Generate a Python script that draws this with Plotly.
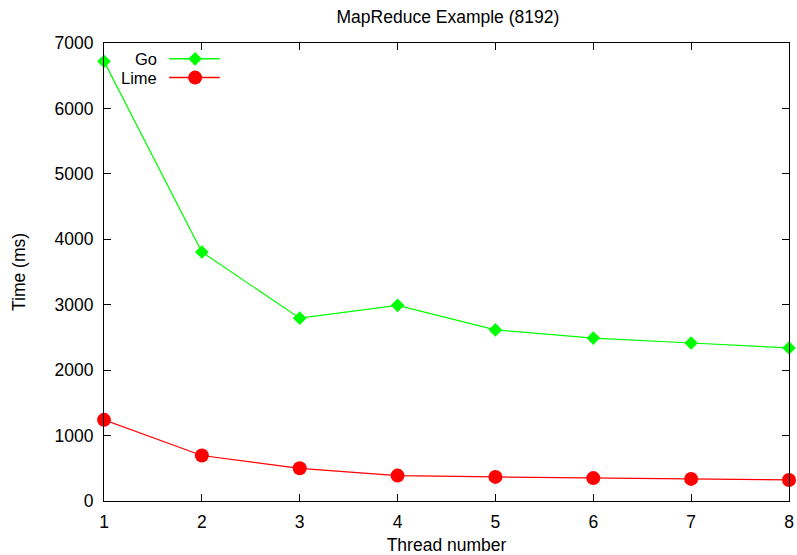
import plotly.graph_objects as go

threads = [1, 2, 3, 4, 5, 6, 7, 8]
go_ms = [6720, 3805, 2795, 2990, 2615, 2490, 2415, 2340]
lime_ms = [1240, 695, 500, 388, 368, 350, 338, 322]

x_ticks = [1, 2, 3, 4, 5, 6, 7, 8]
y_ticks = [0, 1000, 2000, 3000, 4000, 5000, 6000, 7000]

GREEN = "#00ff00"
RED = "#ff0000"
FONT = "Liberation Sans, Arial, sans-serif"
FS = 17.5
KEY_FS = 16.5

fig = go.Figure()
fig.add_trace(go.Scatter(
    x=threads, y=go_ms, name="Go", mode="lines+markers",
    line=dict(color=GREEN, width=1.2),
    marker=dict(symbol="diamond", size=10.5, color=GREEN),
    cliponaxis=False, showlegend=False,
))
fig.add_trace(go.Scatter(
    x=threads, y=lime_ms, name="Lime", mode="lines+markers",
    line=dict(color=RED, width=1.2),
    marker=dict(symbol="circle", size=14, color=RED),
    cliponaxis=False, showlegend=False,
))

# gnuplot-style key: label on the left, line sample with marker on the right
key_rows = [("Go", GREEN, "diamond", 10.5, 0.9655), ("Lime", RED, "circle", 14, 0.9245)]
for label, color, symbol, msize, ky in key_rows:
    fig.add_trace(go.Scatter(
        x=[0.095, 0.169], y=[ky, ky], mode="lines",
        line=dict(color=color, width=1.5),
        xaxis="x2", yaxis="y2", showlegend=False, hoverinfo="skip",
    ))
    fig.add_trace(go.Scatter(
        x=[0.133], y=[ky], mode="markers",
        marker=dict(symbol=symbol, size=msize, color=color),
        xaxis="x2", yaxis="y2", showlegend=False, hoverinfo="skip",
    ))
    fig.add_annotation(
        x=0.079, y=ky, xref="x2", yref="y2", text=label, showarrow=False,
        xanchor="right", yanchor="middle", borderpad=0,
        font=dict(family=FONT, size=KEY_FS, color="black"),
    )

axis_common = dict(
    showgrid=False, zeroline=False, showline=True, linecolor="black", linewidth=1.2,
    mirror="ticks", ticks="inside", ticklen=7, tickwidth=1, tickcolor="black",
    tickfont=dict(family=FONT, size=FS, color="black"), automargin=False,
)

fig.update_layout(
    width=797, height=555,
    margin=dict(l=104, r=8, t=43, b=54),
    paper_bgcolor="white", plot_bgcolor="white",
    title=dict(text="MapReduce Example (8192)", x=0.562, xanchor="center",
               y=0.969, yanchor="middle", font=dict(family=FONT, size=FS, color="black")),
    xaxis=dict(range=[1, 8], tickvals=x_ticks, ticklabelstandoff=5,
               title=dict(text="Thread number", standoff=14,
                          font=dict(family=FONT, size=FS, color="black")),
               **axis_common),
    yaxis=dict(range=[0, 7000], tickvals=y_ticks, ticklabelstandoff=6,
               title=dict(text="Time (ms)", standoff=24,
                          font=dict(family=FONT, size=FS, color="black")),
               **axis_common),
    xaxis2=dict(range=[0, 1], overlaying="x", visible=False, fixedrange=True),
    yaxis2=dict(range=[0, 1], overlaying="y", visible=False, fixedrange=True),
)

fig.write_html("out.html")
